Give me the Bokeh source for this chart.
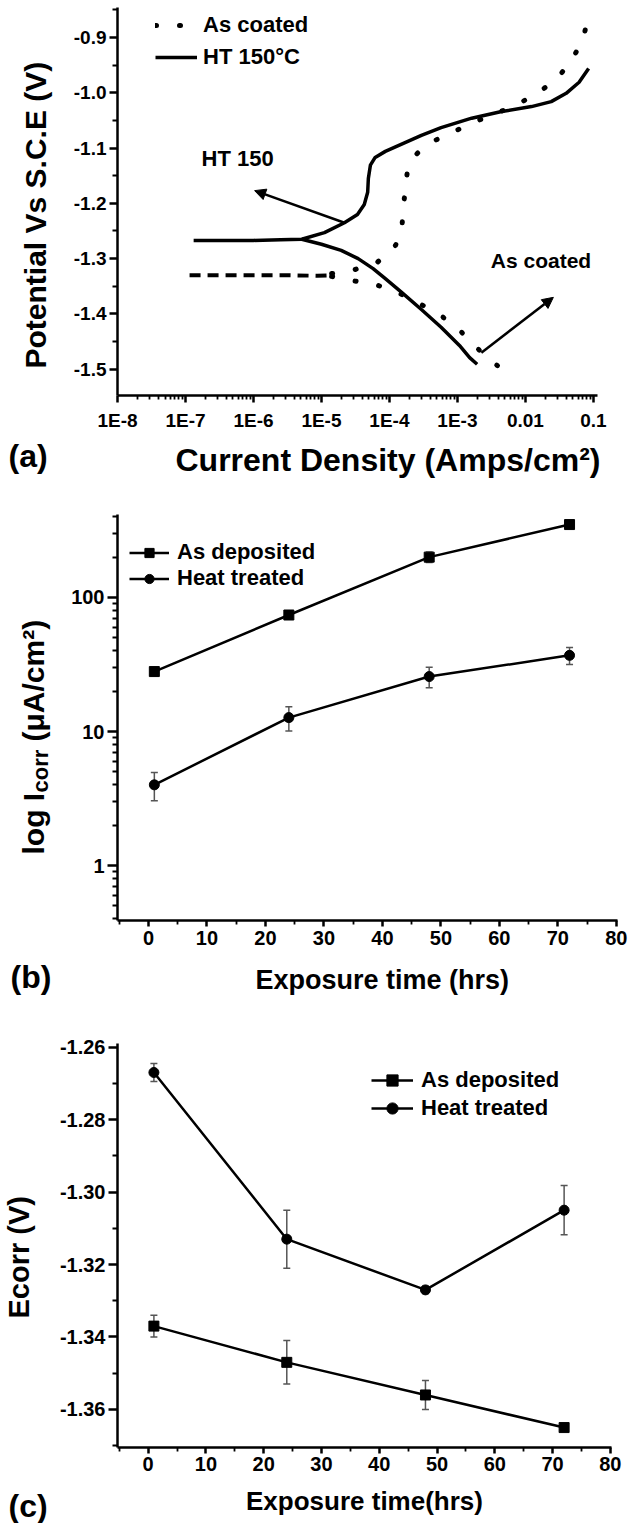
from math import pi
from bokeh.plotting import figure
from bokeh.layouts import column, row
from bokeh.models import (FixedTicker, PrintfTickFormatter, CustomJSTickFormatter, Legend,
                          LegendItem, Label, Arrow, NormalHead, Whisker, TeeHead,
                          ColumnDataSource, Range1d, Title)
from bokeh.embed import file_html
from bokeh.resources import INLINE

FONT = "Liberation Sans"

# ---------------- Panel (a): polarisation curves (log10 of current density, potential V) ----
ht_anodic_logi = [-6.88, -6.4, -6.0, -5.6, -5.29, -4.956, -4.662, -4.47, -4.37, -4.32, -4.31,
                  -4.28, -4.21, -4.06, -3.82, -3.53, -3.24, -2.79, -2.35, -1.91, -1.62,
                  -1.40, -1.21, -1.07]
ht_anodic_e = [-1.267, -1.267, -1.267, -1.266, -1.265, -1.253, -1.235, -1.220, -1.202, -1.180,
               -1.155, -1.131, -1.117, -1.106, -1.093, -1.077, -1.063, -1.046, -1.034, -1.025,
               -1.016, -1.001, -0.981, -0.956]
ht_cath_logi = [-5.29, -5.0, -4.71, -4.46, -4.24, -4.06, -3.82, -3.53, -3.24, -2.97, -2.82, -2.71]
ht_cath_e = [-1.265, -1.274, -1.285, -1.300, -1.318, -1.336, -1.361, -1.392, -1.424, -1.457,
             -1.479, -1.491]

ac_plateau_logi = [-6.94, -6.5, -6.0, -5.5, -5.06, -4.85]
ac_plateau_e = [-1.330, -1.330, -1.330, -1.330, -1.331, -1.330]
ac_anodic_logi = [-4.85, -4.59, -4.18, -4.03, -3.91, -3.82, -3.79, -3.76, -3.74, -3.65, -3.47,
                  -3.18, -2.85, -2.53, -2.21, -1.88, -1.56, -1.32, -1.15, -1.07]
ac_anodic_e = [-1.327, -1.323, -1.307, -1.289, -1.276, -1.249, -1.200, -1.171, -1.146, -1.117,
               -1.095, -1.077, -1.059, -1.041, -1.027, -1.005, -0.978, -0.942, -0.902, -0.860]
ac_cath_logi = [-4.85, -4.68, -4.35, -4.18, -3.88, -3.59, -3.24, -2.94, -2.71, -2.35]
ac_cath_e = [-1.332, -1.338, -1.343, -1.348, -1.361, -1.379, -1.403, -1.433, -1.462, -1.500]

a_xticks = [1e-8, 1e-7, 1e-6, 1e-5, 1e-4, 1e-3, 1e-2, 1e-1]
a_yticks = [-1.5, -1.4, -1.3, -1.2, -1.1, -1.0, -0.9]

# ---------------- Panel (b): Icorr vs exposure time ----------------
time_h = [1, 24, 48, 72]
icorr_asdep = [28, 74, 200, 350]
icorr_asdep_err = [2, 5, 18, 22]
icorr_ht = [4.0, 12.7, 25.7, 37.0]
icorr_ht_err = [0.95, 2.6, 4.5, 5.4]
b_yticks = [1, 10, 100]

# ---------------- Panel (c): Ecorr vs exposure time ----------------
ecorr_asdep = [-1.337, -1.347, -1.356, -1.365]
ecorr_asdep_err = [0.003, 0.006, 0.004, 0.0005]
ecorr_ht = [-1.267, -1.313, -1.327, -1.305]
ecorr_ht_err = [0.0025, 0.008, 0.001, 0.0068]
c_yticks = [-1.36, -1.34, -1.32, -1.30, -1.28, -1.26]
time_ticks = [0, 10, 20, 30, 40, 50, 60, 70, 80]

PAGE_H = 1523
HA, HB = 497, 523
HC = PAGE_H - HA - HB


def style_axes(p, tick_size):
    for ax in p.axis:
        ax.axis_line_width = 2.5
        ax.axis_line_color = "black"
        ax.major_tick_line_width = 2.5
        ax.minor_tick_line_width = 1.8
        ax.major_tick_in = 0
        ax.minor_tick_in = 0
        ax.major_label_text_font = FONT
        ax.major_label_text_font_style = "bold"
        ax.major_label_text_font_size = tick_size
        ax.major_label_text_color = "black"
        ax.axis_label_text_font = FONT
        ax.axis_label_text_font_style = "bold"
        ax.axis_label_text_color = "black"


def base_fig(fw, fh, left, right, top, bottom, xr, yr, xt="linear", yt="linear"):
    p = figure(frame_width=fw, frame_height=fh, x_axis_type=xt, y_axis_type=yt,
               x_range=Range1d(*xr), y_range=Range1d(*yr), output_backend="svg",
               toolbar_location=None, min_border_left=left, min_border_right=right,
               min_border_top=top, min_border_bottom=bottom)
    p.outline_line_color = None
    p.grid.visible = False
    p.background_fill_color = "white"
    p.border_fill_color = "white"
    return p


def x_title(p, text, size, left_offset, standoff):
    p.add_layout(Title(text=text, align="left", vertical_align="middle", offset=left_offset,
                       standoff=standoff, text_font=FONT, text_font_style="bold",
                       text_font_size=size, text_color="black"), "below")


def make_legend(items, loc, gw, lh, standoff):
    return Legend(items=items, location=loc, glyph_width=gw, glyph_height=min(lh, 32),
                  label_height=lh, spacing=0, padding=0, margin=0, label_standoff=standoff,
                  border_line_color=None, background_fill_alpha=0,
                  label_text_font=FONT, label_text_font_style="bold",
                  label_text_font_size="22px", label_text_color="black")


# =================== Panel (a) ===================
pa = base_fig(480, 388, 60, 32, 7, HA - 7 - 388, (1e-8, 0.115), (-1.5475, -0.8458), xt="log")
style_axes(pa, "19px")
pa.xaxis.ticker = FixedTicker(ticks=a_xticks,
                              minor_ticks=[k * 10.0 ** e for e in range(-8, -1) for k in range(2, 10)])
pa.xaxis.formatter = CustomJSTickFormatter(code="""
const e = Math.round(Math.log10(tick));
if (e <= -3) { return "1E" + e; }
return (e == -2) ? "0.01" : "0.1";
""")
pa.yaxis.ticker = FixedTicker(ticks=a_yticks,
                              minor_ticks=[-1.45, -1.35, -1.25, -1.15, -1.05, -0.95, -0.85])
pa.yaxis.formatter = PrintfTickFormatter(format="%.1f")
pa.xaxis.major_tick_out = 7
pa.xaxis.minor_tick_out = 4
pa.xaxis.major_label_standoff = 7
pa.yaxis.major_tick_out = 8
pa.yaxis.minor_tick_out = 5
pa.yaxis.major_label_standoff = 3
x_title(pa, "Current Density (Amps/cm²)", "32px", 58, 15)

ac_pl = pa.line([10 ** v for v in ac_plateau_logi], ac_plateau_e, line_color="black",
                line_width=4, line_dash="11 7")
ac_an = pa.line([10 ** v for v in ac_anodic_logi], ac_anodic_e, line_color="black",
                line_width=5, line_dash="1 23", line_cap="round")
ac_ca = pa.line([10 ** v for v in ac_cath_logi], ac_cath_e, line_color="black",
                line_width=5, line_dash="1 23", line_cap="round")
ht_an = pa.line([10 ** v for v in ht_anodic_logi], ht_anodic_e, line_color="black",
                line_width=3.5, line_join="round")
ht_ca = pa.line([10 ** v for v in ht_cath_logi], ht_cath_e, line_color="black",
                line_width=3.5, line_join="round")

pa.add_layout(make_legend([LegendItem(label="As coated", renderers=[ac_an]),
                           LegendItem(label="HT 150°C", renderers=[ht_an])],
                          (38, 322), 42, 32, 6))

pa.add_layout(Arrow(end=NormalHead(size=11, fill_color="black", line_color="black"),
                    x_start=2.18e-5, y_start=-1.235, x_end=1.04e-6, y_end=-1.177,
                    line_width=2.5, line_color="black"))
pa.add_layout(Arrow(end=NormalHead(size=11, fill_color="black", line_color="black"),
                    x_start=2.25e-3, y_start=-1.47, x_end=2.58e-2, y_end=-1.37,
                    line_width=2.5, line_color="black"))
pa.add_layout(Label(x=1.72e-7, y=-1.119, text="HT 150", text_font=FONT, text_font_style="bold",
                    text_font_size="22px", text_baseline="middle", text_align="left",
                    text_color="black"))
pa.add_layout(Label(x=3.1e-3, y=-1.303, text="As coated", text_font=FONT,
                    text_font_style="bold", text_font_size="21px", text_baseline="middle",
                    text_align="left", text_color="black"))

# =================== Panel (b) ===================
pb = base_fig(500, 406, 60, 12, 17, HB - 17 - 406, (-5.3, 80.2), (0.389, 416), yt="log")
style_axes(pb, "20px")
pb.xaxis.ticker = FixedTicker(ticks=time_ticks, minor_ticks=[-5, 5, 15, 25, 35, 45, 55, 65, 75])
pb.yaxis.ticker = FixedTicker(ticks=b_yticks,
                              minor_ticks=[0.4, 0.5, 0.6, 0.7, 0.8, 0.9] +
                              [k * m for m in (1, 10) for k in range(2, 10)] + [200, 300, 400])
pb.yaxis.formatter = PrintfTickFormatter(format="%d")
pb.xaxis.major_tick_out = 6
pb.xaxis.minor_tick_out = 4
pb.xaxis.major_label_standoff = 4
pb.yaxis.major_tick_out = 10
pb.yaxis.minor_tick_out = 5
pb.yaxis.major_label_standoff = 3
x_title(pb, "Exposure time (hrs)", "27px", 138, 33)

src_b = ColumnDataSource(dict(
    t=time_h,
    a_up=[v + e for v, e in zip(icorr_asdep, icorr_asdep_err)],
    a_lo=[v - e for v, e in zip(icorr_asdep, icorr_asdep_err)],
    h_up=[v + e for v, e in zip(icorr_ht, icorr_ht_err)],
    h_lo=[v - e for v, e in zip(icorr_ht, icorr_ht_err)]))
for up, lo in (("a_up", "a_lo"), ("h_up", "h_lo")):
    pb.add_layout(Whisker(source=src_b, base="t", upper=up, lower=lo, line_color="#555555",
                          line_width=1.5,
                          upper_head=TeeHead(size=7, line_color="#555555", line_width=1.5),
                          lower_head=TeeHead(size=7, line_color="#555555", line_width=1.5)))
b_l1 = pb.line(time_h, icorr_asdep, line_color="black", line_width=2.5)
b_m1 = pb.scatter(time_h, icorr_asdep, marker="square", size=10, color="black")
b_l2 = pb.line(time_h, icorr_ht, line_color="black", line_width=2.5)
b_m2 = pb.scatter(time_h, icorr_ht, marker="circle", size=10, color="black")
pb.add_layout(make_legend([LegendItem(label="As deposited", renderers=[b_l1, b_m1]),
                           LegendItem(label="Heat treated", renderers=[b_l2, b_m2])],
                          (12, 329), 40, 23, 8))

# =================== Panel (c) ===================
pc = base_fig(494, 404, 60, 18, 23, HC - 23 - 404, (-5.3, 80.2), (-1.3705, -1.259))
style_axes(pc, "20px")
pc.xaxis.ticker = FixedTicker(ticks=time_ticks, minor_ticks=[-5, 5, 15, 25, 35, 45, 55, 65, 75])
pc.yaxis.ticker = FixedTicker(ticks=c_yticks, minor_ticks=[-1.37, -1.35, -1.33, -1.31, -1.29, -1.27])
pc.yaxis.formatter = PrintfTickFormatter(format="%.2f")
pc.xaxis.major_tick_out = 6
pc.xaxis.minor_tick_out = 4
pc.xaxis.major_label_standoff = 3
pc.xaxis.axis_label_standoff = 12
pc.xaxis.axis_label_text_font_size = "26px"
pc.yaxis.major_tick_out = 9
pc.yaxis.minor_tick_out = 5
pc.yaxis.major_label_standoff = 3
pc.xaxis.axis_label = "Exposure time(hrs)"

src_c = ColumnDataSource(dict(
    t=time_h,
    a_up=[v + e for v, e in zip(ecorr_asdep, ecorr_asdep_err)],
    a_lo=[v - e for v, e in zip(ecorr_asdep, ecorr_asdep_err)],
    h_up=[v + e for v, e in zip(ecorr_ht, ecorr_ht_err)],
    h_lo=[v - e for v, e in zip(ecorr_ht, ecorr_ht_err)]))
for up, lo in (("a_up", "a_lo"), ("h_up", "h_lo")):
    pc.add_layout(Whisker(source=src_c, base="t", upper=up, lower=lo, line_color="#555555",
                          line_width=1.5,
                          upper_head=TeeHead(size=7, line_color="#555555", line_width=1.5),
                          lower_head=TeeHead(size=7, line_color="#555555", line_width=1.5)))
c_l1 = pc.line(time_h, ecorr_asdep, line_color="black", line_width=2.5)
c_m1 = pc.scatter(time_h, ecorr_asdep, marker="square", size=10, color="black")
c_l2 = pc.line(time_h, ecorr_ht, line_color="black", line_width=2.5)
c_m2 = pc.scatter(time_h, ecorr_ht, marker="circle", size=10, color="black")
pc.add_layout(make_legend([LegendItem(label="As deposited", renderers=[c_l1, c_m1]),
                           LegendItem(label="Heat treated", renderers=[c_l2, c_m2])],
                          (254, 325), 42, 28, 8))

# =================== left strip: y titles and panel letters ===================
side = figure(frame_width=56, frame_height=PAGE_H, x_range=Range1d(0, 56),
              y_range=Range1d(0, PAGE_H), output_backend="svg", toolbar_location=None,
              min_border=0, x_axis_location=None, y_axis_location=None)
side.outline_line_color = None
side.grid.visible = False
side.border_fill_color = "white"


def txt(text, x, page_y, size, angle=0.0, baseline="alphabetic"):
    side.add_layout(Label(x=x, y=PAGE_H - page_y, x_units="screen", y_units="screen",
                          text=text, angle=angle, text_font=FONT, text_font_style="bold",
                          text_font_size=size, text_baseline=baseline, text_align="left",
                          text_color="black"))


txt("Potential Vs S.C.E (V)", 35, 368, "30px", angle=pi / 2)
txt("(a)", 8, 455, "32px", baseline="middle")
txt("log I", 33, 854, "30px", angle=pi / 2)
txt("corr", 40, 854 - 62, "22px", angle=pi / 2)
txt("(μA/cm²)", 33, 854 - 113, "30px", angle=pi / 2)
txt("(b)", 10, 976, "32px", baseline="middle")
txt("Ecorr (V)", 18, 1318, "29px", angle=pi / 2)
txt("(c)", 8, 1505, "32px", baseline="middle")

layout = row(side, column(pa, pb, pc))
open("out.html", "w").write(file_html(layout, INLINE))
